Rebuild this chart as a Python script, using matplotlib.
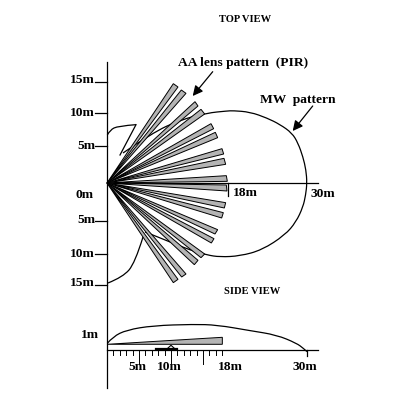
import numpy as np
import matplotlib
matplotlib.use("Agg")
import matplotlib.pyplot as plt
from matplotlib.path import Path
from matplotlib.patches import PathPatch

plt.rcParams['font.family'] = ['Liberation Serif', 'DejaVu Serif']

# Beam tips in metres (two corners of each far end), top view
beam_x1 = [9.95, 11.15, 13.2, 14.1, 15.6, 16.25, 17.25, 17.55, 17.9, 17.9, 17.8, 17.45, 16.6, 16.05, 14.65, 13.65, 11.85, 10.65]
beam_y1 = [14.9, 13.95, 12.2, 11.05, 8.9, 7.6, 5.15, 3.7, 1.1, -0.3, -2.95, -4.45, -7.0, -8.35, -10.65, -11.6, -13.65, -14.45]
beam_x2 = [10.65, 11.85, 13.65, 14.65, 16.0, 16.6, 17.5, 17.8, 18.05, 18.0, 17.6, 17.2, 16.2, 15.65, 14.1, 13.1, 11.2, 9.95]
beam_y2 = [14.4, 13.45, 11.55, 10.35, 8.15, 6.8, 4.35, 2.8, 0.25, -1.2, -3.75, -5.25, -7.65, -9.0, -11.2, -12.25, -14.1, -14.95]

# Microwave pattern outline, top view (metres)
mw_x = [0.05, 0.45, 1.65, 4.35]
mw_y = [7.2, 7.95, 8.55, 8.75]
mw_tail_x = [4.35, 1.95]
mw_tail_y = [8.75, 4.2]
mw2_x = [2.4, 6.75, 10.95, 15, 18, 18.9, 21.45, 24, 25.95, 27.75, 28.65, 29.4, 29.85, 30, 29.8, 29.4, 28.35, 26.7, 23.25, 19.95, 16.95, 15, 12.45, 9.45, 6.9, 5.7]
mw2_y = [4.5, 7.5, 9.45, 10.5, 10.8, 10.85, 10.65, 9.75, 8.78, 7.5, 6.0, 3.9, 1.95, 0, -1.8, -3.6, -5.85, -7.8, -10.05, -10.95, -11.1, -10.8, -10.05, -8.85, -7.8, -7.35]
mw3_x = [5.4, 4.2, 2.4, 0.15]
mw3_y = [-8.1, -12, -14.1, -15]

# Side view (metres, height above baseline)
side_mw_x = [0.05, 0.9, 2.95, 6.9, 12.9, 16.5, 21.45, 25.45, 28.45, 29.45, 30]
side_mw_y = [1.05, 2.05, 3.05, 3.7, 3.9, 3.8, 2.95, 2.3, 1.05, 0.3, -0.2]
side_beam_x = [0, 17.3, 17.3]
side_beam_y = [0.9, 1.95, 0.9]
side_major = [5, 10, 15]

top_ticks = [15.15, 10.5, 5.55, -5.7, -10.7, -15.3]
top_tick_labels = ['15m', '10m', '5m', '5m', '10m', '15m']

PX = 0.15
X0, Y0 = 107.0, 183.0
SIDE0 = (Y0 - 350.3) * PX

fig = plt.figure(figsize=(4.02, 4.04), dpi=100)
ax = fig.add_axes([0, 0, 1, 1])
ax.set_xlim(-X0 * PX, (402 - X0) * PX)
ax.set_ylim(-(404 - Y0) * PX, Y0 * PX)
ax.axis('off')

lw = 0.9

def smooth(xs, ys, offset=0.0, **kw):
    # quadratic curve segments through the midpoints of the read points
    pts = np.column_stack([xs, np.array(ys) + offset])
    verts = [pts[0]]
    codes = [Path.MOVETO]
    for i in range(1, len(pts) - 1):
        end = pts[i + 1] if i == len(pts) - 2 else (pts[i] + pts[i + 1]) / 2
        verts += [pts[i], end]
        codes += [Path.CURVE3, Path.CURVE3]
    ax.add_patch(PathPatch(Path(verts, codes), facecolor='none', edgecolor='k', lw=kw.get('lw', lw)))

# axes
ax.plot([0, 0], [(Y0 - 62.5) * PX, (Y0 - 388) * PX], color='k', lw=lw)
ax.plot([0, 31.6], [0, 0], color='k', lw=lw)
ax.plot([18.1, 18.1], [0, -2.0], color='k', lw=lw)
for t in top_ticks:
    ax.plot([-1.8, 0], [t, t], color='k', lw=lw)

# MW pattern
smooth(mw_x, mw_y)
ax.plot(mw_tail_x, mw_tail_y, color='k', lw=lw)
smooth(mw2_x, mw2_y)
smooth(mw3_x, mw3_y)

# beams
for a, b, c, d in zip(beam_x1, beam_y1, beam_x2, beam_y2):
    ax.fill([0, a, c], [0, b, d], facecolor='#b4b4b4', edgecolor='k', lw=0.7, zorder=3)

# side view
ax.plot([0, 31.6], [SIDE0, SIDE0], color='k', lw=lw)
smooth(side_mw_x, side_mw_y, SIDE0)
ax.fill(side_beam_x, np.array(side_beam_y) + SIDE0, facecolor='#b4b4b4', edgecolor='k', lw=0.7, zorder=3)
for k in range(19):
    length = 2.0 if k in side_major else 0.7
    ax.plot([k * 0.96, k * 0.96], [SIDE0, SIDE0 - length], color='k', lw=0.7)
ax.plot([30, 30], [SIDE0, SIDE0 - 0.8], color='k', lw=lw)
ax.plot([7.3, 10.5], [SIDE0 + 0.15, SIDE0 + 0.15], color='k', lw=1.6)
ax.plot([9.1, 9.6, 10.1], [SIDE0 + 0.3, SIDE0 + 0.75, SIDE0 + 0.3], color='k', lw=0.8)

# text layer in pixels
tx = fig.add_axes([0, 0, 1, 1], facecolor='none')
tx.set_xlim(0, 402)
tx.set_ylim(404, 0)
tx.axis('off')
fs = 9.7
def lab(x, y, s, ha='left', size=fs):
    tx.text(x, y, s, fontsize=size, fontweight='bold', ha=ha, va='center', color='k')

lab(245, 19, 'TOP VIEW', 'center', 7.6)
lab(243.5, 63, 'AA lens pattern  (PIR)', 'center')
lab(297.5, 100, 'MW  pattern', 'center')
lab(252, 291, 'SIDE VIEW', 'center', 7.6)
for t, s, yy in zip(top_ticks, top_tick_labels, [80, 113, 146, 220, 254, 283]):
    lab(95, yy, s, 'right')
lab(85, 195, '0m', 'center')
lab(245, 193, '18m', 'center')
lab(323, 194, '30m', 'center')
lab(90, 335, '1m', 'center')
lab(137.5, 367, '5m', 'center')
lab(169, 367, '10m', 'center')
lab(230, 367, '18m', 'center')
lab(305, 367, '30m', 'center')

arrow = dict(arrowstyle='-|>,head_length=0.6,head_width=0.3', color='k', lw=0.9, shrinkA=0, shrinkB=0)
tx.annotate('', xy=(192.7, 96), xytext=(212.7, 71.7), arrowprops=arrow)
tx.annotate('', xy=(292.7, 131), xytext=(312.7, 106), arrowprops=arrow)

fig.savefig('out.png', dpi=100, facecolor='white')
